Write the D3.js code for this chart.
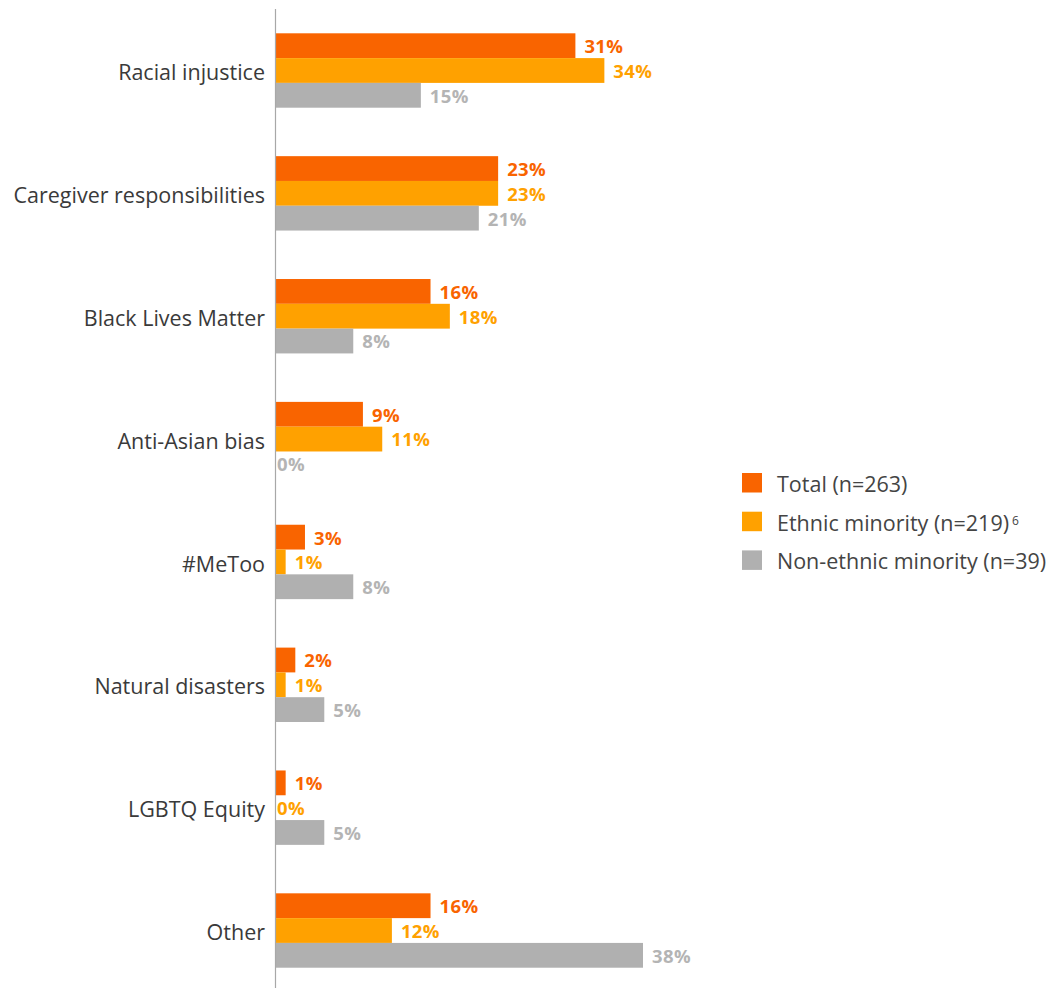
<!DOCTYPE html>
<html>
<head>
<meta charset="utf-8">
<script src="https://cdn.jsdelivr.net/npm/d3@7"></script>
<style>
  html, body { margin: 0; padding: 0; background: #fff; }
  svg { display: block; }
</style>
</head>
<body>
<svg id="chart" width="1063" height="988"></svg>
<script>
// Reasons cited, by respondent group (percent)
const categories = [
  "Racial injustice",
  "Caregiver responsibilities",
  "Black Lives Matter",
  "Anti-Asian bias",
  "#MeToo",
  "Natural disasters",
  "LGBTQ Equity",
  "Other"
];
const totalValues = [31, 23, 16, 9, 3, 2, 1, 16];
const ethnicValues = [34, 23, 18, 11, 1, 1, 0, 12];
const nonEthnicValues = [15, 21, 8, 0, 8, 5, 5, 38];
const seriesNames = ["Total (n=263)", "Ethnic minority (n=219)", "Non-ethnic minority (n=39)"];
const seriesSup = ["", "6", ""];
const seriesColors = ["#F96400", "#FFA100", "#B0B0B0"];
const labelColors = ["#F96400", "#FFA100", "#B4B4B4"];

const series = [totalValues, ethnicValues, nonEthnicValues];
const font = "'Open Sans', 'Noto Sans', sans-serif";

const svg = d3.select("#chart");

const x0 = 276;
const x = d3.scaleLinear().domain([0, 38]).range([x0, x0 + 367]);

const y = d3.scaleBand()
  .domain(categories)
  .range([33.3, 33.3 + 122.86 * categories.length])
  .paddingInner(0)
  .paddingOuter(0);

const inner = d3.scaleBand()
  .domain(d3.range(series.length))
  .range([0, 74.4]);

const groups = svg.selectAll("g.cat")
  .data(categories)
  .join("g")
  .attr("class", "cat")
  .attr("transform", d => `translate(0,${y(d)})`);

// bars with value labels, plus the category name beside each group
groups.each(function(cat, ci) {
  const g = d3.select(this);
  series.forEach((vals, si) => {
    const v = vals[ci];
    g.append("rect")
      .attr("x", x(0))
      .attr("y", inner(si))
      .attr("width", x(v) - x(0))
      .attr("height", inner.bandwidth())
      .attr("fill", seriesColors[si]);
    g.append("text")
      .attr("x", x(v) + (v === 0 ? 1 : 9))
      .attr("y", inner(si) + inner.bandwidth() / 2)
      .attr("dy", "0.4em")
      .attr("font-family", font)
      .attr("font-weight", 700)
      .attr("font-size", 18.5)
      .attr("letter-spacing", 0.4)
      .attr("fill", labelColors[si])
      .text(v + "%");
  });
  g.append("text")
    .attr("x", 265)
    .attr("y", inner(1) + inner.bandwidth() / 2)
    .attr("dy", "0.45em")
    .attr("text-anchor", "end")
    .attr("font-family", font)
    .attr("font-size", 21.5)
    .attr("fill", "#3a3a3a")
    .text(cat);
});

// vertical baseline
svg.append("line")
  .attr("x1", 275.5).attr("x2", 275.5)
  .attr("y1", 9).attr("y2", 988)
  .attr("stroke", "#a8a8a8")
  .attr("stroke-width", 1.2);

// legend
const legend = svg.append("g").attr("transform", "translate(742,473)");
seriesNames.forEach((name, i) => {
  const row = legend.append("g").attr("transform", `translate(0,${i * 38.7})`);
  row.append("rect").attr("width", 20).attr("height", 19.5).attr("fill", seriesColors[i]);
  const t = row.append("text")
    .attr("x", 35)
    .attr("y", 10)
    .attr("dy", "0.42em")
    .attr("font-family", font)
    .attr("font-size", 21.5)
    .attr("fill", "#444")
    .text(name);
  if (seriesSup[i]) {
    t.append("tspan")
      .attr("dx", 3)
      .attr("dy", "-0.5em")
      .attr("font-size", 12)
      .text(seriesSup[i]);
  }
});
</script>
</body>
</html>
